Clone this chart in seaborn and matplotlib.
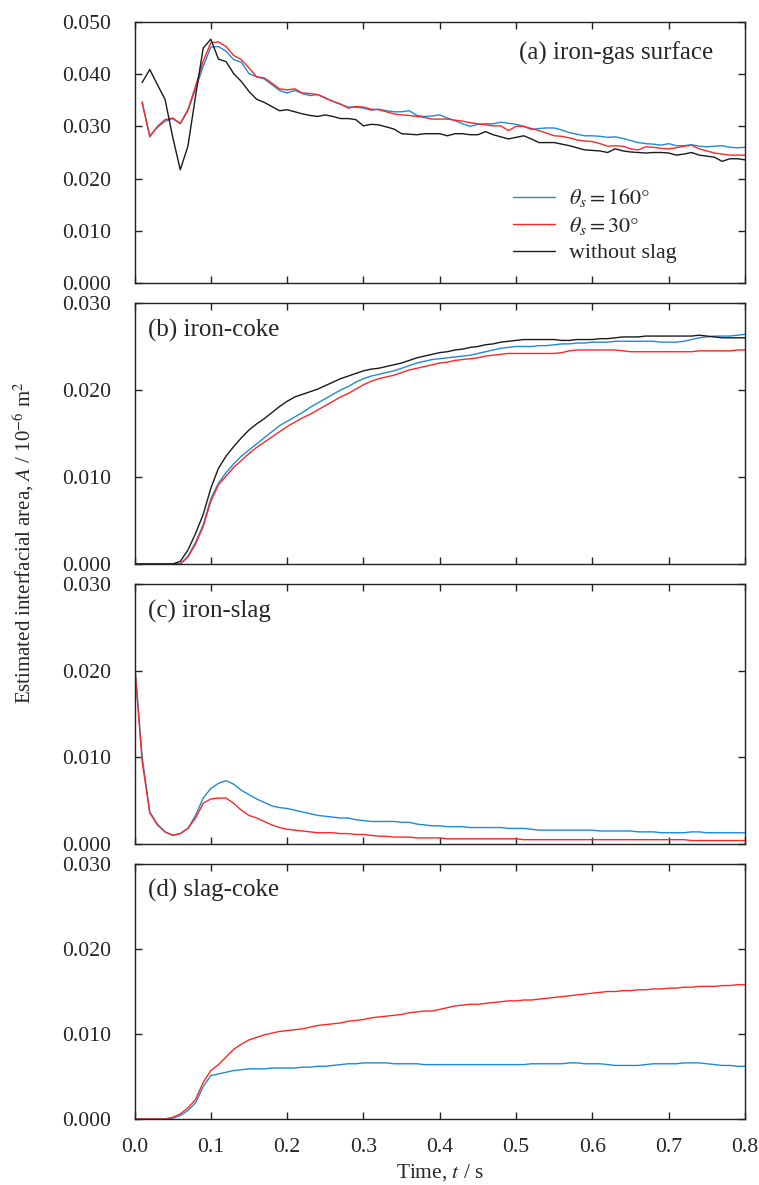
import numpy as np
import pandas as pd
import matplotlib
matplotlib.use('Agg')
import matplotlib.pyplot as plt
import seaborn as sns

time = np.round(np.arange(0, 0.805, 0.01), 2)

# (a) iron-gas surface
gas_160 = [np.nan, 0.0345, 0.0282, 0.0298, 0.0310, 0.0315, 0.0305, 0.0330, 0.0372, 0.0415,
           0.0452, 0.0453, 0.0444, 0.0428, 0.0423, 0.0401, 0.0395, 0.0391, 0.0380, 0.0369,
           0.0364, 0.0369, 0.0363, 0.0359, 0.0361, 0.0355, 0.0348, 0.0342, 0.0337, 0.0337,
           0.0335, 0.0331, 0.0333, 0.0330, 0.0328, 0.0328, 0.0330, 0.0321, 0.0319, 0.0320,
           0.0322, 0.0316, 0.0311, 0.0305, 0.0300, 0.0304, 0.0305, 0.0305, 0.0308, 0.0306,
           0.0304, 0.0300, 0.0294, 0.0296, 0.0297, 0.0297, 0.0293, 0.0288, 0.0285, 0.0282,
           0.0282, 0.0281, 0.0279, 0.0280, 0.0277, 0.0273, 0.0269, 0.0267, 0.0266, 0.0264,
           0.0267, 0.0263, 0.0263, 0.0265, 0.0262, 0.0261, 0.0262, 0.0263, 0.0260, 0.0259,
           0.0260]
gas_30 = [np.nan, 0.0347, 0.0280, 0.0300, 0.0313, 0.0316, 0.0306, 0.0332, 0.0377, 0.0425,
          0.0460, 0.0462, 0.0453, 0.0436, 0.0428, 0.0412, 0.0395, 0.0393, 0.0383, 0.0372,
          0.0370, 0.0372, 0.0364, 0.0363, 0.0361, 0.0354, 0.0348, 0.0343, 0.0335, 0.0338,
          0.0337, 0.0333, 0.0332, 0.0328, 0.0324, 0.0322, 0.0321, 0.0319, 0.0317, 0.0314,
          0.0314, 0.0314, 0.0312, 0.0310, 0.0307, 0.0305, 0.0303, 0.0301, 0.0301, 0.0292,
          0.0300, 0.0300, 0.0296, 0.0292, 0.0287, 0.0282, 0.0281, 0.0278, 0.0274, 0.0272,
          0.0271, 0.0267, 0.0262, 0.0263, 0.0262, 0.0257, 0.0255, 0.0261, 0.0260, 0.0258,
          0.0257, 0.0259, 0.0262, 0.0264, 0.0257, 0.0253, 0.0249, 0.0247, 0.0245, 0.0245,
          0.0245]
gas_noslag = [np.nan, 0.0384, 0.0409, 0.0380, 0.0352, 0.0280, 0.0217, 0.0262, 0.0358, 0.0450,
              0.0467, 0.0429, 0.0424, 0.0401, 0.0386, 0.0367, 0.0352, 0.0346, 0.0338, 0.0330,
              0.0332, 0.0328, 0.0324, 0.0321, 0.0319, 0.0322, 0.0319, 0.0315, 0.0315, 0.0313,
              0.0301, 0.0304, 0.0303, 0.0299, 0.0295, 0.0286, 0.0285, 0.0284, 0.0286, 0.0286,
              0.0286, 0.0282, 0.0286, 0.0286, 0.0284, 0.0284, 0.0290, 0.0284, 0.0280, 0.0276,
              0.0279, 0.0282, 0.0276, 0.0269, 0.0269, 0.0269, 0.0266, 0.0263, 0.0259, 0.0255,
              0.0254, 0.0253, 0.0250, 0.0257, 0.0253, 0.0251, 0.0250, 0.0249, 0.0250, 0.0250,
              0.0249, 0.0245, 0.0247, 0.0250, 0.0245, 0.0243, 0.0241, 0.0233, 0.0238, 0.0238,
              0.0236]

# (b) iron-coke
coke_160 = [0, 0, 0, 0, 0, 0, 0.0000, 0.0009, 0.0025, 0.0045,
            0.0075, 0.0093, 0.0105, 0.0115, 0.0124, 0.0131, 0.0138, 0.0145, 0.0152, 0.0159,
            0.0164, 0.0169, 0.0174, 0.0180, 0.0185, 0.0190, 0.0195, 0.0200, 0.0204, 0.0209,
            0.0213, 0.0216, 0.0218, 0.0220, 0.0222, 0.0225, 0.0228, 0.0231, 0.0233, 0.0235,
            0.0236, 0.0237, 0.0238, 0.0239, 0.0240, 0.0242, 0.0244, 0.0246, 0.0248, 0.0249,
            0.0250, 0.0250, 0.0250, 0.0251, 0.0251, 0.0252, 0.0253, 0.0253, 0.0254, 0.0254,
            0.0255, 0.0255, 0.0255, 0.0256, 0.0256, 0.0256, 0.0256, 0.0256, 0.0256, 0.0255,
            0.0255, 0.0255, 0.0256, 0.0258, 0.0260, 0.0261, 0.0262, 0.0262, 0.0262, 0.0263,
            0.0264]
coke_30 = [0, 0, 0, 0, 0, 0, 0.0000, 0.0008, 0.0023, 0.0043,
           0.0072, 0.0091, 0.0101, 0.0111, 0.0119, 0.0127, 0.0134, 0.0140, 0.0146, 0.0152,
           0.0158, 0.0163, 0.0168, 0.0172, 0.0177, 0.0182, 0.0187, 0.0192, 0.0196, 0.0201,
           0.0206, 0.0210, 0.0213, 0.0215, 0.0217, 0.0220, 0.0223, 0.0225, 0.0227, 0.0229,
           0.0231, 0.0232, 0.0234, 0.0235, 0.0236, 0.0237, 0.0239, 0.0240, 0.0241, 0.0242,
           0.0242, 0.0242, 0.0242, 0.0242, 0.0242, 0.0242, 0.0243, 0.0245, 0.0246, 0.0246,
           0.0246, 0.0246, 0.0246, 0.0246, 0.0245, 0.0244, 0.0244, 0.0244, 0.0244, 0.0244,
           0.0244, 0.0244, 0.0244, 0.0244, 0.0245, 0.0245, 0.0245, 0.0245, 0.0245, 0.0246,
           0.0246]
coke_noslag = [0, 0, 0, 0, 0, 0, 0.0003, 0.0016, 0.0035, 0.0057,
               0.0087, 0.0110, 0.0124, 0.0135, 0.0145, 0.0154, 0.0161, 0.0167, 0.0174, 0.0181,
               0.0187, 0.0192, 0.0195, 0.0198, 0.0201, 0.0205, 0.0209, 0.0213, 0.0216, 0.0219,
               0.0222, 0.0224, 0.0225, 0.0227, 0.0229, 0.0231, 0.0234, 0.0237, 0.0239, 0.0241,
               0.0243, 0.0244, 0.0246, 0.0247, 0.0249, 0.0250, 0.0252, 0.0253, 0.0255, 0.0256,
               0.0257, 0.0258, 0.0258, 0.0258, 0.0258, 0.0258, 0.0257, 0.0257, 0.0258, 0.0258,
               0.0258, 0.0259, 0.0259, 0.0260, 0.0261, 0.0261, 0.0261, 0.0262, 0.0262, 0.0262,
               0.0262, 0.0262, 0.0262, 0.0262, 0.0263, 0.0262, 0.0261, 0.0260, 0.0260, 0.0260,
               0.0260]

# (c) iron-slag
slag_160 = [0.0210, 0.0101, 0.0037, 0.0023, 0.0014, 0.0010, 0.0012, 0.0018, 0.0033, 0.0053,
            0.0064, 0.0070, 0.0073, 0.0069, 0.0062, 0.0057, 0.0052, 0.0048, 0.0044, 0.0042,
            0.0041, 0.0039, 0.0037, 0.0035, 0.0033, 0.0032, 0.0031, 0.0030, 0.0030, 0.0028,
            0.0027, 0.0026, 0.0026, 0.0026, 0.0026, 0.0025, 0.0025, 0.0023, 0.0022, 0.0021,
            0.0021, 0.0020, 0.0020, 0.0020, 0.0019, 0.0019, 0.0019, 0.0019, 0.0019, 0.0018,
            0.0018, 0.0018, 0.0017, 0.0016, 0.0016, 0.0016, 0.0016, 0.0016, 0.0016, 0.0016,
            0.0016, 0.0015, 0.0015, 0.0015, 0.0015, 0.0015, 0.0014, 0.0014, 0.0014, 0.0013,
            0.0013, 0.0013, 0.0013, 0.0014, 0.0014, 0.0013, 0.0013, 0.0013, 0.0013, 0.0013,
            0.0013]
slag_30 = [0.0210, 0.0095, 0.0036, 0.0022, 0.0014, 0.0010, 0.0012, 0.0018, 0.0030, 0.0047,
           0.0052, 0.0053, 0.0053, 0.0047, 0.0039, 0.0033, 0.0030, 0.0026, 0.0022, 0.0019,
           0.0017, 0.0016, 0.0015, 0.0014, 0.0013, 0.0013, 0.0013, 0.0012, 0.0012, 0.0011,
           0.0011, 0.0010, 0.0009, 0.0009, 0.0008, 0.0008, 0.0008, 0.0007, 0.0007, 0.0007,
           0.0007, 0.0006, 0.0006, 0.0006, 0.0006, 0.0006, 0.0006, 0.0006, 0.0006, 0.0006,
           0.0006, 0.0005, 0.0005, 0.0005, 0.0005, 0.0005, 0.0005, 0.0005, 0.0005, 0.0005,
           0.0005, 0.0005, 0.0005, 0.0005, 0.0005, 0.0005, 0.0005, 0.0005, 0.0005, 0.0005,
           0.0005, 0.0005, 0.0005, 0.0004, 0.0004, 0.0004, 0.0004, 0.0004, 0.0004, 0.0004,
           0.0004]

# (d) slag-coke
sc_160 = [0, 0, 0, 0, 0, 0.0001, 0.0004, 0.0010, 0.0019, 0.0038,
          0.0051, 0.0053, 0.0055, 0.0057, 0.0058, 0.0059, 0.0059, 0.0059, 0.0060, 0.0060,
          0.0060, 0.0060, 0.0061, 0.0061, 0.0062, 0.0062, 0.0063, 0.0064, 0.0065, 0.0065,
          0.0066, 0.0066, 0.0066, 0.0066, 0.0065, 0.0065, 0.0065, 0.0065, 0.0064, 0.0064,
          0.0064, 0.0064, 0.0064, 0.0064, 0.0064, 0.0064, 0.0064, 0.0064, 0.0064, 0.0064,
          0.0064, 0.0064, 0.0065, 0.0065, 0.0065, 0.0065, 0.0065, 0.0066, 0.0066, 0.0065,
          0.0065, 0.0065, 0.0064, 0.0063, 0.0063, 0.0063, 0.0063, 0.0064, 0.0065, 0.0065,
          0.0065, 0.0065, 0.0066, 0.0066, 0.0066, 0.0065, 0.0064, 0.0063, 0.0063, 0.0062,
          0.0062]
sc_30 = [0, 0, 0, 0, 0, 0.0002, 0.0006, 0.0013, 0.0023, 0.0043,
         0.0057, 0.0064, 0.0073, 0.0082, 0.0088, 0.0093, 0.0096, 0.0099, 0.0101, 0.0103,
         0.0104, 0.0105, 0.0106, 0.0108, 0.0110, 0.0111, 0.0112, 0.0113, 0.0115, 0.0116,
         0.0117, 0.0119, 0.0120, 0.0121, 0.0122, 0.0123, 0.0125, 0.0126, 0.0127, 0.0127,
         0.0129, 0.0131, 0.0133, 0.0134, 0.0135, 0.0135, 0.0136, 0.0137, 0.0138, 0.0139,
         0.0139, 0.0140, 0.0140, 0.0141, 0.0142, 0.0143, 0.0144, 0.0145, 0.0146, 0.0147,
         0.0148, 0.0149, 0.0150, 0.0150, 0.0151, 0.0151, 0.0152, 0.0152, 0.0153, 0.0153,
         0.0154, 0.0154, 0.0155, 0.0155, 0.0156, 0.0156, 0.0156, 0.0157, 0.0157, 0.0158,
         0.0158]

CASES = ['$\\theta_s = 160°$', '$\\theta_s = 30°$', 'without slag']
COLORS = {CASES[0]: '#1f8ad6', CASES[1]: '#ff2626', CASES[2]: '#1a1a1a'}

panels = [
    ('(a) iron-gas surface', 0.05, {CASES[0]: gas_160, CASES[1]: gas_30, CASES[2]: gas_noslag}),
    ('(b) iron-coke', 0.03, {CASES[0]: coke_160, CASES[1]: coke_30, CASES[2]: coke_noslag}),
    ('(c) iron-slag', 0.03, {CASES[0]: slag_160, CASES[1]: slag_30}),
    ('(d) slag-coke', 0.03, {CASES[0]: sc_160, CASES[1]: sc_30}),
]

## Style
sns.set_style('ticks')
plt.rcParams['font.family'] = ['Liberation Serif', 'DejaVu Serif']
plt.rcParams['mathtext.fontset'] = 'stix'
plt.rcParams['axes.linewidth'] = 1.0

W, H = 759, 1185
fig = plt.figure(figsize=(W / 100, H / 100), dpi=100)

# axes boxes in pixels (top, bottom)
boxes = [(22, 283), (303, 564), (584, 844), (864, 1119)]
left_px, right_px = 134.5, 745

for i, ((label, ymax, series), (top, bot)) in enumerate(zip(panels, boxes)):
    ax = fig.add_axes([left_px / W, 1 - bot / H, (right_px - left_px) / W, (bot - top) / H])
    frames = [pd.DataFrame({'time': time, 'area': vals, 'case': name})
              for name, vals in series.items()]
    df = pd.concat(frames, ignore_index=True).dropna()
    sns.lineplot(data=df, x='time', y='area', hue='case', hue_order=list(series.keys()),
                 palette=COLORS, estimator=None, linewidth=1.0, ax=ax, legend=(i == 0))
    ax.set_xlim(0, 0.8)
    ax.set_ylim(0, ymax)
    ax.set_xticks(np.arange(0, 0.81, 0.1))
    ax.set_yticks(np.arange(0, ymax + 0.001, 0.01))
    ax.yaxis.set_major_formatter(matplotlib.ticker.FormatStrFormatter('%.3f'))
    ax.xaxis.set_major_formatter(matplotlib.ticker.FormatStrFormatter('%.1f'))
    ax.tick_params(direction='in', top=True, right=True, length=5, width=1.0,
                   labelsize=15.7, color='#222222')
    ax.tick_params(axis='y', pad=17)
    ax.tick_params(axis='x', pad=14)
    ax.set_ylabel('')
    ax.set_xlabel('')
    for sp in ax.spines.values():
        sp.set_color('#222222')
    if i < 3:
        ax.tick_params(labelbottom=False)
    if i == 0:
        ax.text(0.948, 0.88, label, transform=ax.transAxes, ha='right', va='center', fontsize=18)
        handles, labels = ax.get_legend_handles_labels()
        ax.legend(handles, labels, loc='upper left', bbox_to_anchor=(0.62, 0.37),
                  frameon=False, fontsize=15.8, handlelength=1.9, handletextpad=0.65,
                  labelspacing=0.26, borderpad=0, borderaxespad=0)
    else:
        ax.text(0.022, 0.895, label, transform=ax.transAxes, ha='left', va='center', fontsize=18)
    if i == 3:
        ax.set_xlabel('Time, $\\it{t}$ / s', fontsize=15.4, labelpad=3)

fig.text(0.031, 0.542, 'Estimated interfacial area, $\\it{A}$ / 10$^{-6}$ m$^{2}$',
         rotation=90, ha='center', va='center', fontsize=15)

fig.savefig('out.png', dpi=100)
